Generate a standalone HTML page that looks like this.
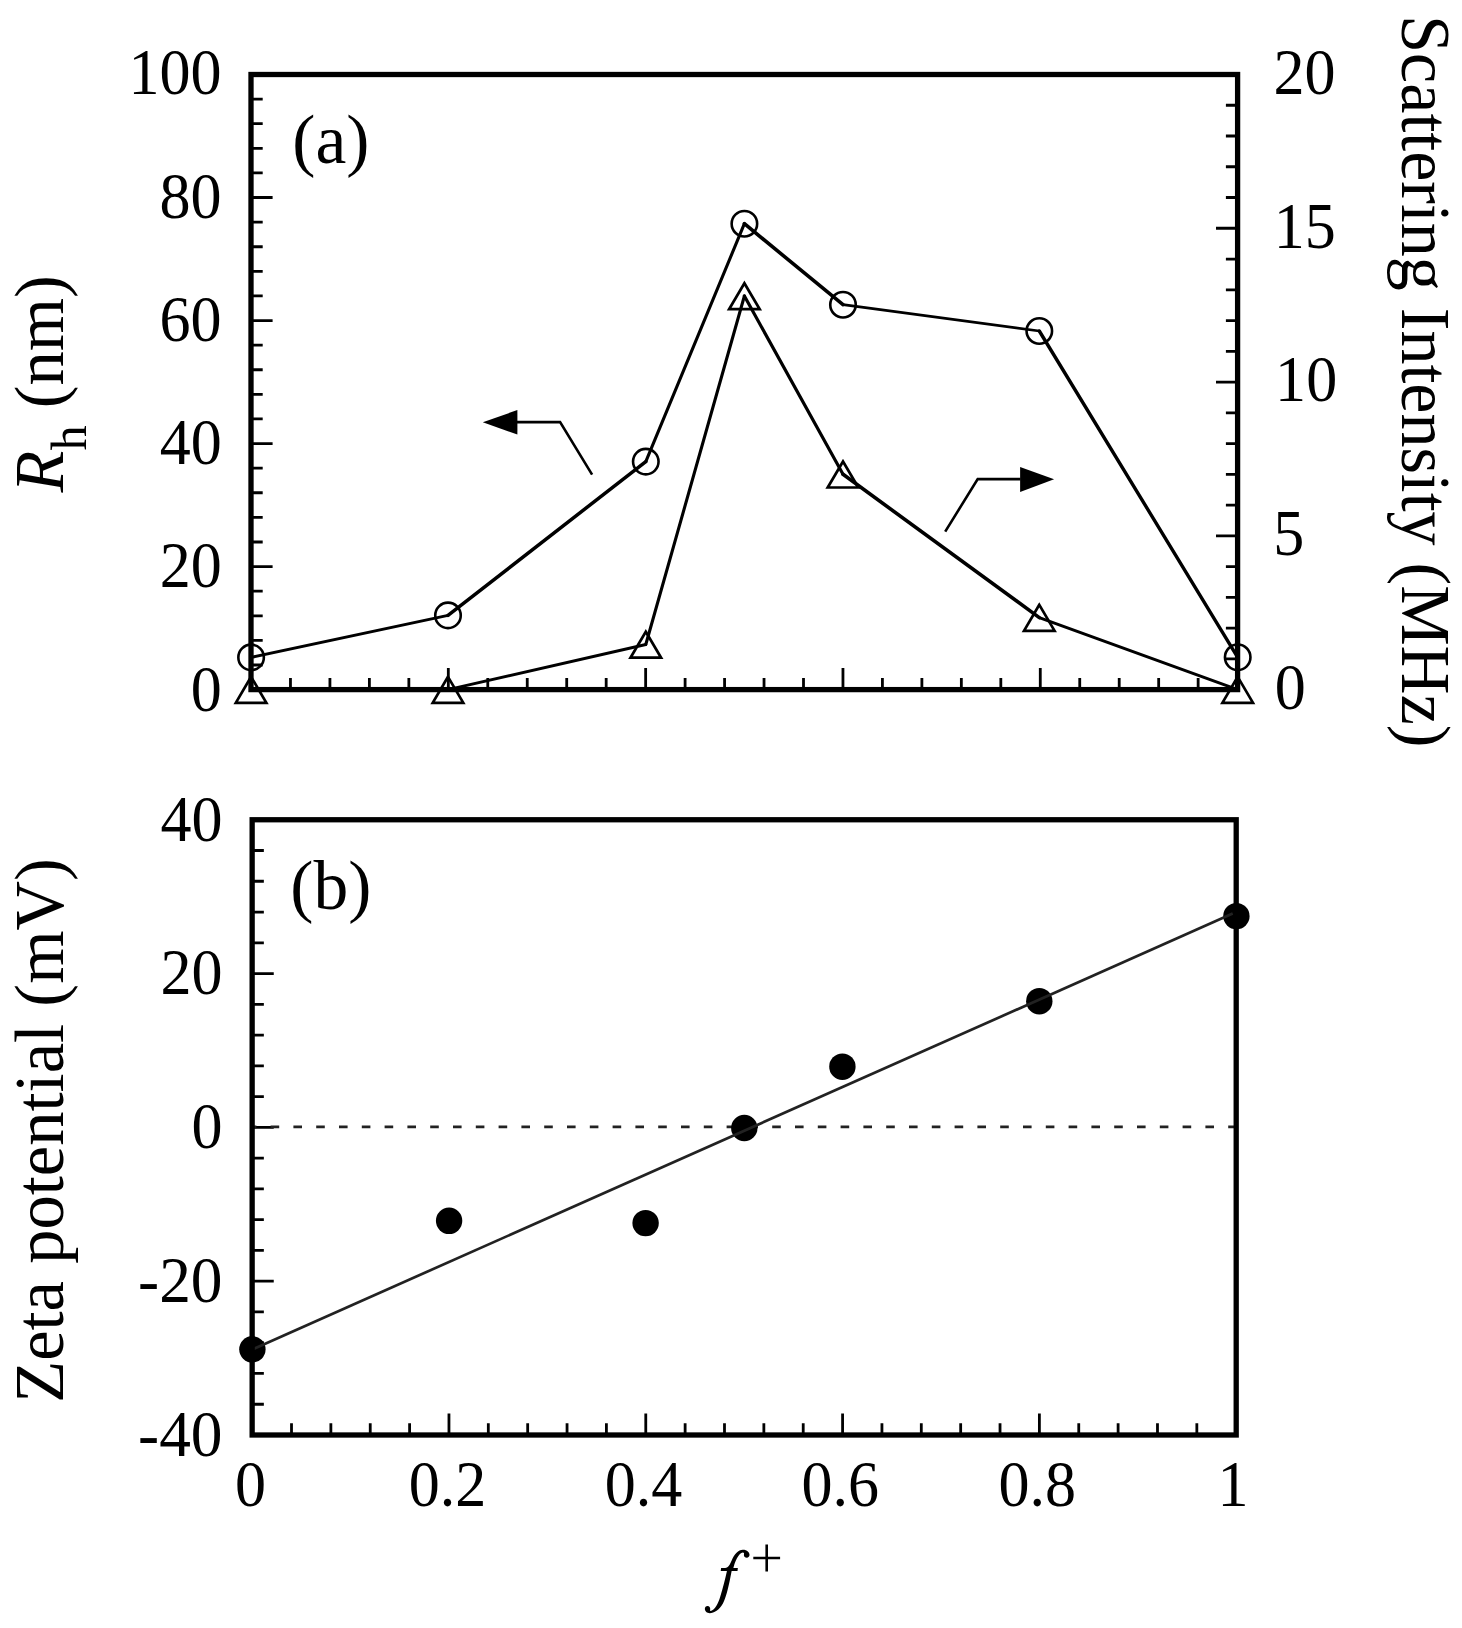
<!DOCTYPE html>
<html><head><meta charset="utf-8"><title>chart</title>
<style>
html,body{margin:0;padding:0;background:#fff;}
body{width:1462px;height:1628px;overflow:hidden;}
svg{display:block;}
text{font-family:"Liberation Serif",serif;fill:#000;}
.tk{font-size:65px;}
.ax{font-size:69.5px;}
</style></head><body>
<svg width="1462" height="1628" viewBox="0 0 1462 1628">
<rect x="0" y="0" width="1462" height="1628" fill="#fff"/>
<g id="panelA">
<path d="M251.00 665.00h11.7M251.00 640.39h11.7M251.00 615.79h11.7M251.00 591.18h11.7M251.00 566.58h21.6M251.00 541.98h11.7M251.00 517.37h11.7M251.00 492.77h11.7M251.00 468.16h11.7M251.00 443.56h21.6M251.00 418.96h11.7M251.00 394.35h11.7M251.00 369.75h11.7M251.00 345.14h11.7M251.00 320.54h21.6M251.00 295.94h11.7M251.00 271.33h11.7M251.00 246.73h11.7M251.00 222.12h11.7M251.00 197.52h21.6M251.00 172.92h11.7M251.00 148.31h11.7M251.00 123.71h11.7M251.00 99.10h11.7M1237.60 658.85h-11.7M1237.60 628.09h-11.7M1237.60 597.34h-11.7M1237.60 566.58h-11.7M1237.60 535.83h-21.6M1237.60 505.07h-11.7M1237.60 474.32h-11.7M1237.60 443.56h-11.7M1237.60 412.81h-11.7M1237.60 382.05h-21.6M1237.60 351.30h-11.7M1237.60 320.54h-11.7M1237.60 289.78h-11.7M1237.60 259.03h-11.7M1237.60 228.27h-21.6M1237.60 197.52h-11.7M1237.60 166.76h-11.7M1237.60 136.01h-11.7M1237.60 105.25h-11.7M290.46 689.60v-11.7M329.93 689.60v-11.7M369.39 689.60v-11.7M408.86 689.60v-11.7M448.32 689.60v-21.6M487.78 689.60v-11.7M527.25 689.60v-11.7M566.71 689.60v-11.7M606.18 689.60v-11.7M645.64 689.60v-21.6M685.10 689.60v-11.7M724.57 689.60v-11.7M764.03 689.60v-11.7M803.50 689.60v-11.7M842.96 689.60v-21.6M882.42 689.60v-11.7M921.89 689.60v-11.7M961.35 689.60v-11.7M1000.82 689.60v-11.7M1040.28 689.60v-21.6M1079.74 689.60v-11.7M1119.21 689.60v-11.7M1158.67 689.60v-11.7M1198.14 689.60v-11.7" stroke="#000" stroke-width="2.8" fill="none"/>
<rect x="251.0" y="74.5" width="986.60" height="615.10" fill="none" stroke="#000" stroke-width="5.3"/>
<line x1="251.1" y1="657.4" x2="448.0" y2="615.4" stroke="#000" stroke-width="3.0" stroke-linecap="round"/>
<line x1="448.0" y1="615.4" x2="645.8" y2="461.6" stroke="#000" stroke-width="3.5" stroke-linecap="round"/>
<line x1="645.8" y1="461.6" x2="744.4" y2="223.7" stroke="#000" stroke-width="3.1" stroke-linecap="round"/>
<line x1="744.4" y1="223.7" x2="843.0" y2="304.7" stroke="#000" stroke-width="3.6" stroke-linecap="round"/>
<line x1="843.0" y1="304.7" x2="1039.3" y2="331.0" stroke="#000" stroke-width="2.7" stroke-linecap="round"/>
<line x1="1039.3" y1="331.0" x2="1237.7" y2="657.3" stroke="#000" stroke-width="3.4" stroke-linecap="round"/>
<line x1="251.1" y1="689.6" x2="448.0" y2="689.6" stroke="#000" stroke-width="2.9" stroke-linecap="round"/>
<line x1="448.0" y1="689.6" x2="645.8" y2="644.5" stroke="#000" stroke-width="2.9" stroke-linecap="round"/>
<line x1="645.8" y1="644.5" x2="744.4" y2="296.0" stroke="#000" stroke-width="3.1" stroke-linecap="round"/>
<line x1="744.4" y1="296.0" x2="843.0" y2="474.3" stroke="#000" stroke-width="3.2" stroke-linecap="round"/>
<line x1="843.0" y1="474.3" x2="1039.3" y2="617.6" stroke="#000" stroke-width="3.6" stroke-linecap="round"/>
<line x1="1039.3" y1="617.6" x2="1237.7" y2="689.6" stroke="#000" stroke-width="3.0" stroke-linecap="round"/>
<circle cx="251.1" cy="657.4" r="12.75" fill="none" stroke="#000" stroke-width="2.6"/>
<circle cx="448.0" cy="615.4" r="12.75" fill="none" stroke="#000" stroke-width="2.6"/>
<circle cx="645.8" cy="461.6" r="12.75" fill="none" stroke="#000" stroke-width="2.6"/>
<circle cx="744.4" cy="223.7" r="12.75" fill="none" stroke="#000" stroke-width="2.6"/>
<circle cx="843.0" cy="304.7" r="12.75" fill="none" stroke="#000" stroke-width="2.6"/>
<circle cx="1039.3" cy="331.0" r="12.75" fill="none" stroke="#000" stroke-width="2.6"/>
<circle cx="1237.7" cy="657.3" r="12.75" fill="none" stroke="#000" stroke-width="2.6"/>
<path d="M251.1 676.8L235.8 702.8H266.4Z" fill="none" stroke="#000" stroke-width="2.7" stroke-linejoin="miter"/>
<path d="M448.0 676.8L432.7 702.8H463.3Z" fill="none" stroke="#000" stroke-width="2.7" stroke-linejoin="miter"/>
<path d="M645.8 631.7L630.5 657.7H661.1Z" fill="none" stroke="#000" stroke-width="2.7" stroke-linejoin="miter"/>
<path d="M744.4 283.2L729.1 309.2H759.7Z" fill="none" stroke="#000" stroke-width="2.7" stroke-linejoin="miter"/>
<path d="M843.0 461.5L827.7 487.5H858.3Z" fill="none" stroke="#000" stroke-width="2.7" stroke-linejoin="miter"/>
<path d="M1039.3 604.8L1024.0 630.8H1054.6Z" fill="none" stroke="#000" stroke-width="2.7" stroke-linejoin="miter"/>
<path d="M1237.7 676.8L1222.4 702.8H1253.0Z" fill="none" stroke="#000" stroke-width="2.7" stroke-linejoin="miter"/>
<path d="M517 422.1H560.1L592.1 474.6" fill="none" stroke="#000" stroke-width="2.6"/>
<path d="M482.8 422.3L517.4 410V434.6Z" fill="#000"/>
<path d="M1020.5 479.1H977.7L945.2 531.6" fill="none" stroke="#000" stroke-width="2.6"/>
<path d="M1054.1 479.2L1020.1 466.9V491.9Z" fill="#000"/>
<text class="tk" transform="translate(190.73,710.80) scale(0.9550,1)">0</text>
<text class="tk" transform="translate(159.69,586.98) scale(0.9550,1)">20</text>
<text class="tk" transform="translate(159.69,463.96) scale(0.9550,1)">40</text>
<text class="tk" transform="translate(159.49,340.94) scale(0.9550,1)">60</text>
<text class="tk" transform="translate(159.49,217.92) scale(0.9550,1)">80</text>
<text class="tk" transform="translate(128.45,94.20) scale(0.9550,1)">100</text>
<text class="tk" transform="translate(1274.83,709.00) scale(0.9550,1)">0</text>
<text class="tk" transform="translate(1273.29,555.23) scale(0.9550,1)">5</text>
<text class="tk" transform="translate(1275.12,401.45) scale(0.9550,1)">10</text>
<text class="tk" transform="translate(1273.70,247.67) scale(0.9550,1)">15</text>
<text class="tk" transform="translate(1273.43,93.90) scale(0.9550,1)">20</text>
<text class="ax" transform="translate(330.80,162.60) scale(1.0,1)" text-anchor="middle">(a)</text>
<text class="ax" transform="translate(62.8,492.4) rotate(-90) scale(0.985,1)"><tspan font-style="italic">R</tspan><tspan font-size="51" dy="23">h</tspan><tspan dy="-23"> (nm)</tspan></text>
<text class="ax" transform="translate(1401.5,381.4) rotate(90) scale(0.978,1)" text-anchor="middle">Scattering Intensity (MHz)</text>
</g>
<g id="panelB">
<path d="M252.15 1404.24h11.7M252.15 1373.47h11.7M252.15 1342.71h11.7M252.15 1311.95h11.7M252.15 1281.19h21.6M252.15 1250.42h11.7M252.15 1219.66h11.7M252.15 1188.90h11.7M252.15 1158.14h11.7M252.15 1127.38h21.6M252.15 1096.61h11.7M252.15 1065.85h11.7M252.15 1035.09h11.7M252.15 1004.33h11.7M252.15 973.56h21.6M252.15 942.80h11.7M252.15 912.04h11.7M252.15 881.27h11.7M252.15 850.51h11.7M291.51 1435.00v-11.7M330.87 1435.00v-11.7M370.24 1435.00v-11.7M409.60 1435.00v-11.7M448.96 1435.00v-21.6M488.32 1435.00v-11.7M527.68 1435.00v-11.7M567.05 1435.00v-11.7M606.41 1435.00v-11.7M645.77 1435.00v-21.6M685.13 1435.00v-11.7M724.49 1435.00v-11.7M763.86 1435.00v-11.7M803.22 1435.00v-11.7M842.58 1435.00v-21.6M881.94 1435.00v-11.7M921.30 1435.00v-11.7M960.67 1435.00v-11.7M1000.03 1435.00v-11.7M1039.39 1435.00v-21.6M1078.75 1435.00v-11.7M1118.11 1435.00v-11.7M1157.48 1435.00v-11.7M1196.84 1435.00v-11.7" stroke="#000" stroke-width="2.8" fill="none"/>
<line x1="252.15" y1="1126.9" x2="1236.2" y2="1126.9" stroke="#222" stroke-width="2.6" stroke-dasharray="8.6 14.2" stroke-dashoffset="4.35"/>
<circle cx="252.4" cy="1349.3" r="13.2" fill="#000"/>
<circle cx="449.1" cy="1220.8" r="13.2" fill="#000"/>
<circle cx="645.6" cy="1223.1" r="13.2" fill="#000"/>
<circle cx="744.3" cy="1128.0" r="13.2" fill="#000"/>
<circle cx="842.4" cy="1066.7" r="13.2" fill="#000"/>
<circle cx="1039.3" cy="1001.2" r="13.2" fill="#000"/>
<circle cx="1236.4" cy="916.1" r="13.2" fill="#000"/>
<line x1="252.8" y1="1349.2" x2="1232.7" y2="913.6" stroke="#222" stroke-width="2.7"/>
<rect x="252.15" y="819.75" width="984.05" height="615.25" fill="none" stroke="#000" stroke-width="5.3"/>
<text class="tk" transform="translate(138.03,1455.80) scale(0.9750,1)">-40</text>
<text class="tk" transform="translate(138.03,1301.99) scale(0.9750,1)">-20</text>
<text class="tk" transform="translate(191.53,1148.17) scale(0.9550,1)">0</text>
<text class="tk" transform="translate(160.49,994.36) scale(0.9550,1)">20</text>
<text class="tk" transform="translate(160.49,840.55) scale(0.9550,1)">40</text>
<text class="tk" transform="translate(235.03,1505.80) scale(0.9550,1)">0</text>
<text class="tk" transform="translate(408.73,1505.80) scale(0.9550,1)">0.2</text>
<text class="tk" transform="translate(604.81,1505.80) scale(0.9550,1)">0.4</text>
<text class="tk" transform="translate(801.55,1505.80) scale(0.9550,1)">0.6</text>
<text class="tk" transform="translate(998.45,1505.80) scale(0.9550,1)">0.8</text>
<text class="tk" transform="translate(1217.47,1505.80) scale(0.9550,1)">1</text>
<text class="ax" transform="translate(330.75,908.60) scale(1.0,1)" text-anchor="middle">(b)</text>
<text class="ax" transform="translate(63.1,1130.45) rotate(-90) scale(0.987,1)" text-anchor="middle">Zeta potential (mV)</text>
<path transform="translate(698,1542) scale(0.047923)" d="M1075 268C1075 215 1030 160 935 160C840 160 762 245 700 390C668 465 640 528 565 545L482 545L474 605L604 605C570 760 520 960 462 1150C420 1285 355 1415 268 1440C256 1443 250 1432 254 1412C262 1370 235 1335 200 1335C165 1335 143 1362 143 1395C143 1450 190 1485 245 1485C335 1485 445 1420 520 1285C582 1170 622 990 664 800L702 605L824 605L832 545L738 545C765 440 812 300 895 235C925 212 950 212 958 228C964 240 958 255 958 275C958 305 985 328 1018 328C1052 328 1075 302 1075 268Z" fill="#000"/>
<path d="M753.3 1558H780.1M766.7 1544.4V1571.4" stroke="#000" stroke-width="2.6" fill="none"/>
</g>
</svg></body></html>
